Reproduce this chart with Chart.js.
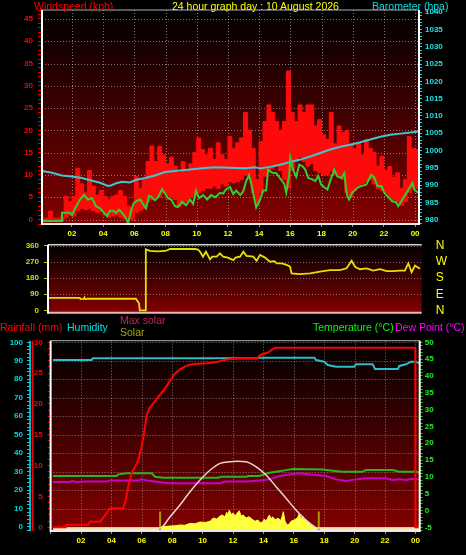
<!DOCTYPE html>
<html>
<head>
<meta charset="utf-8">
<script src="https://cdn.jsdelivr.net/npm/chart.js@4.4.0/dist/chart.umd.min.js"></script>
<style>
  body { margin: 0; background: #000; width: 466px; height: 555px; overflow: hidden; position: relative; font-family: "Liberation Sans", Arial, sans-serif; }
  canvas { position: absolute; left: 0; top: 0; }
  .t { position: absolute; font-size: 10.5px; line-height: 10.5px; white-space: nowrap; }
</style>
</head>
<body>
<canvas id="wind" width="466" height="555"></canvas>
<canvas id="dir" width="466" height="555"></canvas>
<canvas id="temp" width="466" height="555"></canvas>

<div class="t" style="left:34px;top:0.5px;color:#ff0000">Windspeed (kph)</div>
<div class="t" style="left:172px;top:0.5px;color:#ffff00">24 hour graph day : 10 August 2026</div>
<div class="t" style="left:372px;top:0.5px;color:#00e0e0">Barometer (hpa)</div>
<div class="t" style="left:0px;top:322px;color:#ff0000">Rainfall (mm)</div>
<div class="t" style="left:67px;top:322px;color:#00e0e0">Humidity</div>
<div class="t" style="left:120px;top:314.5px;color:#c8205a">Max solar</div>
<div class="t" style="left:120px;top:327px;color:#a8a800">Solar</div>
<div class="t" style="left:313px;top:322px;color:#00ff00">Temperature (°C)</div>
<div class="t" style="left:395px;top:322px;color:#ff00ff">Dew Point (°C)</div>

<script>
// ---- wind (top panel), hours of the day ----
const gustTimes = Array.from({ length: 98 }, (_, i) => i * 0.25);
const windHi = [0.3, 0.3, 1.9, 0.3, 0.3, 0.5, 5.2, 4.0, 5.2, 11.5, 8.0, 6.0, 11.0, 7.5, 5.5, 6.5,
  5.2, 4.5, 5.2, 5.5, 6.5, 5.2, 3.0, 2.5, 9.7, 7.0, 9.0, 13.0, 16.5, 13.0, 16.4, 14.5,
  12.5, 14.0, 12.0, 10.5, 13.0, 11.0, 12.5, 15.0, 18.3, 15.7, 14.5, 16.0, 13.5, 17.2, 14.5, 13.5,
  18.6, 16.0, 17.2, 18.3, 24.0, 20.0, 16.0, 9.0, 17.5, 22.0, 25.7, 24.0, 22.0, 20.0, 22.0, 33.3,
  24.0, 22.0, 25.7, 24.0, 25.7, 25.7, 21.0, 22.4, 19.0, 18.0, 24.0, 17.0, 21.0, 19.5, 20.0, 17.0,
  16.0, 17.2, 14.5, 17.9, 16.0, 15.0, 12.0, 14.2, 11.0, 11.9, 9.5, 10.5, 7.0, 9.0, 18.6, 16.0,
  15.7, 12.0];
const windLo = [0, 0, 0, 0, 0, 0, 0.5, 1.0, 0.8, 2.0, 2.5, 2.2, 2.5, 2.0, 1.6, 1.8,
  1.0, 0.5, 0.8, 1.0, 0.5, 0.2, 0, 0, 1.5, 2.0, 2.5, 4.0, 4.5, 5.0, 5.0, 6.0,
  5.5, 5.0, 4.5, 3.0, 3.5, 4.0, 5.0, 5.5, 6.0, 6.5, 7.0, 7.0, 7.5, 7.0, 8.0, 7.5,
  8.5, 8.2, 8.5, 9.0, 10.0, 10.0, 6.0, 3.5, 6.0, 9.7, 11.0, 11.5, 12.0, 11.0, 9.0, 7.0,
  11.0, 13.0, 14.0, 13.0, 12.0, 12.5, 11.0, 10.5, 10.0, 10.0, 11.0, 10.0, 9.5, 9.0, 6.0, 5.0,
  6.5, 7.5, 8.0, 8.5, 9.0, 8.0, 7.0, 6.5, 6.0, 5.0, 4.5, 4.0, 3.2, 4.0, 6.0, 7.0,
  7.0, 7.0];
const avgTimes = [0.08, 1.3, 1.36, 1.87, 2.0, 2.2, 2.52, 2.77, 3.03, 3.29, 3.54, 3.8, 4.06, 4.25, 4.44, 4.63,
  4.82, 5.02, 5.21, 5.4, 5.6, 5.79, 5.98, 6.17, 6.37, 6.56, 6.75, 6.94, 7.14, 7.33, 7.52, 7.78,
  7.97, 8.16, 8.36, 8.61, 8.8, 9.06, 9.32, 9.58, 9.77, 9.96, 10.15, 10.41, 10.67, 10.92, 11.18, 11.5,
  11.69, 11.89, 12.14, 12.34, 12.53, 12.79, 12.98, 13.17, 13.36, 13.56, 13.81, 14.07, 14.26, 14.45, 14.58, 14.84,
  15.1, 15.35, 15.61, 15.74, 15.93, 16.0, 16.19, 16.38, 16.57, 16.77, 16.96, 17.15, 17.41, 17.6, 17.79, 17.98,
  18.38, 18.63, 18.82, 19.01, 19.27, 19.46, 19.58, 19.66, 19.77, 19.96, 20.3, 20.55, 20.87, 21.19, 21.39, 21.58,
  21.84, 22.03, 22.23, 22.54, 22.8, 22.91, 23.18, 23.5, 23.83, 23.95, 24.21];
const windAvg = [-0.3, -0.3, 1.5, 1.5, 1.0, 2.5, 4.5, 5.5, 4.5, 4.8, 3.0, 2.5, 1.5, 0.8, 2.0, 2.0,
  1.5, 2.2, 1.5, 0.7, -0.8, 2.0, 3.8, 4.2, 4.5, 3.5, 2.5, 5.3, 5.0, 4.3, 5.0, 6.8,
  5.8, 4.8, 4.5, 3.0, 2.8, 4.0, 3.2, 4.5, 3.5, 6.5, 4.8, 5.5, 4.5, 5.5, 5.0, 6.0,
  5.8, 6.8, 7.3, 5.7, 6.5, 5.5, 6.3, 8.6, 10.0, 7.0, 2.7, 4.5, 6.5, 6.5, 11.2, 10.5,
  10.4, 9.2, 8.0, 6.0, 10.0, 13.8, 11.0, 9.6, 12.3, 12.0, 11.2, 9.3, 9.0, 8.6, 9.8, 7.8,
  6.7, 9.4, 11.2, 9.7, 9.3, 10.4, 6.7, 5.2, 4.5, 6.0, 7.1, 7.5, 7.8, 10.0, 9.4, 7.5,
  7.5, 6.0, 5.2, 4.1, 3.8, 3.0, 4.5, 6.3, 8.2, 6.7, 6.0];
const baroTimes = [0.08, 0.72, 1.36, 2.0, 2.64, 3.29, 3.8, 4.31, 4.5, 4.78, 5.21, 5.72, 6.07, 6.69, 7.33, 7.97,
  8.61, 9.25, 9.9, 10.54, 11.18, 11.82, 12.47, 13.1, 13.75, 14.07, 14.71, 15.35, 15.99, 16.64, 17.28, 17.92,
  18.56, 19.2, 19.85, 20.49, 21.13, 21.77, 22.41, 23.05, 23.7, 24.21];
const baro = [994.1, 993.6, 992.8, 992.5, 992.1, 991.3, 990.7, 989.8, 989.9, 990.5, 991.0, 990.8, 991.5, 992.1, 992.8, 993.8,
  994.1, 994.4, 994.7, 995.0, 995.2, 995.1, 995.0, 994.9, 995.2, 994.8, 995.3, 995.9, 996.7, 997.4, 998.3, 999.3,
  1000.3, 1001.1, 1001.7, 1002.4, 1003.2, 1004.0, 1004.6, 1004.9, 1005.2, 1005.5];

// ---- wind direction (middle panel) ----
const dirTimes = [0.46, 2.5, 2.55, 2.75, 2.8, 2.85, 3.0, 6.1, 6.3, 6.35, 6.72, 6.74, 7.0, 7.5, 8.0, 8.3,
  9.9, 10.1, 10.22, 10.41, 10.6, 10.86, 11.0, 11.29, 11.5, 11.7, 12.0, 12.36, 12.5, 12.79, 13.0, 13.2,
  13.64, 13.85, 14.07, 14.39, 14.71, 15.0, 15.14, 15.46, 15.78, 16.0, 16.1, 16.64, 17.28, 17.92, 18.56, 19.2,
  19.63, 19.95, 20.17, 20.49, 20.92, 21.34, 21.78, 22.2, 22.6, 23.05, 23.37, 23.59, 23.8, 24.02, 24.34];
const dirVals = [70, 70, 63, 64, 72, 63, 65, 65, 40, 0, 0, 341, 333, 330, 332, 343,
  343, 340, 328, 300, 328, 285, 300, 300, 319, 300, 295, 281, 295, 300, 328, 305,
  300, 277, 310, 295, 272, 275, 263, 263, 254, 244, 207, 203, 207, 216, 225, 225,
  235, 277, 244, 230, 235, 222, 230, 219, 219, 222, 222, 263, 213, 250, 233];
const compass = { 0: 'N', 90: 'E', 180: 'S', 270: 'W', 360: 'N' };

// ---- rain / humidity / solar / temperature (bottom panel) ----
const rainTimes = [0.16, 1.0, 1.06, 2.48, 2.6, 3.25, 3.36, 3.6, 3.9, 4.78, 4.95, 5.1, 5.33, 5.55, 5.77, 5.99,
  6.14, 6.25, 6.32, 6.5, 6.76, 6.98, 7.2, 7.53, 7.86, 8.18, 8.51, 8.95, 9.39, 10.27, 10.93, 11.58,
  12.46, 13.6, 13.73, 13.95, 14.28, 14.61, 14.78, 23.99, 24.0, 24.28];
const rain = [0, 0, 0.4, 0.4, 0.9, 0.9, 1.2, 2.0, 3.1, 3.1, 4.5, 6.5, 8.8, 9.8, 10.9, 13.1,
  15.2, 17.0, 18.2, 19.3, 20.1, 20.8, 21.5, 22.5, 23.8, 24.9, 25.6, 26.2, 26.5, 26.6, 26.8, 27.2,
  27.4, 27.4, 27.8, 28.1, 28.3, 28.9, 29.1, 29.1, 0, 0];
const humTimes = [0.16, 2.7, 2.77, 13.6, 13.75, 17.35, 17.46, 18.0, 18.23, 18.78, 19.98, 20.09, 21.19, 21.34, 22.84, 22.94,
  23.38, 23.71, 24.04, 24.26];
const hum = [90.4, 90.4, 91.3, 91.3, 91.7, 91.7, 90.4, 89.5, 87.7, 86.8, 86.8, 88.1, 88.1, 85.5, 85.5, 87.2,
  88.1, 89.5, 89.5, 88.5];
const tempTimes = [0.16, 4.35, 4.45, 5.0, 6.65, 6.87, 7.41, 11.03, 11.2, 12.86, 13.0, 13.73, 14.39, 14.83, 15.49, 15.93,
  17.9, 18.56, 19.2, 20.5, 20.75, 22.5, 22.94, 23.82, 24.0, 24.24];
const temp = [10.25, 10.25, 10.75, 11.05, 11.05, 10.05, 9.75, 9.75, 10.05, 10.05, 10.25, 10.25, 11.2, 11.5, 12.0, 12.3,
  12.2, 11.8, 11.5, 11.5, 12.0, 12.0, 11.5, 11.5, 11.7, 11.2];
const dewTimes = [0.16, 1.28, 1.39, 1.72, 2.37, 3.7, 3.9, 5.77, 5.99, 6.32, 6.87, 7.74, 11.2, 11.36, 11.54, 12.86,
  13.73, 14.39, 15.05, 15.49, 16.36, 16.8, 17.46, 18.12, 18.78, 19.43, 19.87, 20.75, 22.07, 22.5, 22.94, 23.38,
  23.82, 24.24];
const dew = [8.45, 8.45, 8.75, 8.45, 8.6, 8.6, 8.95, 8.95, 9.25, 8.95, 8.6, 8.1, 8.1, 8.45, 8.6, 8.6,
  8.9, 9.25, 10.25, 10.55, 11.05, 10.85, 10.55, 10.25, 9.25, 8.75, 9.1, 9.55, 9.55, 9.1, 9.25, 9.1,
  9.4, 9.25];
const maxSolarTimes = [0.16, 7.2, 7.86, 8.51, 9.17, 9.83, 10.5, 11.15, 11.81, 12.3, 12.86, 13.5, 14.17, 14.83, 15.49, 16.14,
  16.8, 17.35, 17.5, 24.24];
const maxSolar = [0, 0, 75, 153, 242, 320, 387, 431, 442, 445, 442, 409, 354, 276, 198, 120,
  53, 9, 0, 0];
const solarTimes = [0.16, 7.13, 7.26, 7.86, 8.18, 8.51, 8.84, 9.17, 9.5, 9.83, 10.16, 10.5, 10.7, 10.93, 11.15, 11.28,
  11.47, 11.59, 11.67, 11.76, 11.87, 12.0, 12.13, 12.24, 12.41, 12.53, 12.66, 12.86, 13.05, 13.3, 13.45, 13.64,
  13.78, 13.95, 14.06, 14.17, 14.39, 14.5, 14.61, 14.76, 14.96, 15.16, 15.31, 15.42, 15.55, 15.68, 15.82, 16.01,
  16.14, 16.26, 16.36, 16.47, 16.59, 16.67, 16.8, 17.02, 17.2, 17.35, 17.46, 24.24];
const solar = [0, 0, 8, 13, 15, 20, 18, 31, 28, 40, 36, 45, 67, 60, 80, 87,
  75, 105, 85, 120, 90, 100, 80, 95, 115, 80, 87, 67, 75, 55, 45, 53,
  35, 40, 60, 45, 87, 60, 75, 55, 65, 50, 109, 45, 20, 25, 45, 53,
  60, 70, 98, 60, 80, 55, 53, 33, 15, 5, 0, 0];
const sunTimes = [7.2, 17.64];

const pts = (xs, ys) => xs.map((x, i) => ({ x, y: ys[i] }));
const fixW = w => s => { s.width = w; };
const fixH = h => s => { s.height = h; };
const tickFont = { family: 'Liberation Sans', size: 8, weight: 'bold' };
const hourLabel = v => (v <= 0 ? '' : String(v % 24).padStart(2, '0'));
const every = n => v => (v >= 0 && v % n === 0 ? v : '');

// background, dotted grid and frame of each panel
const panel = {
  id: 'panel',
  beforeDraw(chart, _args, o) {
    const { ctx, chartArea: a } = chart;
    ctx.save();
    const g = ctx.createLinearGradient(0, a.top, 0, a.bottom);
    g.addColorStop(0, '#000000');
    g.addColorStop(0.1, '#0e0000');
    g.addColorStop(1, '#840000');
    ctx.fillStyle = g;
    ctx.fillRect(a.left, a.top, a.right - a.left, a.bottom - a.top);
    ctx.strokeStyle = 'rgba(205,205,205,0.55)';
    ctx.lineWidth = 1;
    ctx.setLineDash([1, 2]);
    const sy = chart.scales[o.hAxis];
    sy.ticks.forEach(t => {
      if (t.value % o.hStep !== 0 || t.value < o.hFrom) return;
      const y = Math.round(sy.getPixelForValue(t.value)) + 0.5;
      ctx.beginPath(); ctx.moveTo(a.left, y); ctx.lineTo(a.right, y); ctx.stroke();
    });
    if (o.vGrid) {
      const sx = chart.scales.x;
      sx.ticks.forEach(t => {
        if (t.value <= 0) return;
        const x = Math.round(sx.getPixelForValue(t.value)) + 0.5;
        ctx.beginPath(); ctx.moveTo(x, a.top); ctx.lineTo(x, a.bottom); ctx.stroke();
      });
    }
    ctx.restore();
  },
  afterDraw(chart, _args, o) {
    const { ctx, chartArea: a } = chart;
    ctx.save();
    (o.edges || []).forEach(([side, color, w]) => {
      ctx.strokeStyle = color; ctx.lineWidth = w;
      ctx.beginPath();
      if (side === 'top') { ctx.moveTo(a.left, a.top); ctx.lineTo(a.right, a.top); }
      if (side === 'bottom') { ctx.moveTo(a.left, a.bottom); ctx.lineTo(a.right, a.bottom); }
      if (side === 'left') { ctx.moveTo(a.left, a.top); ctx.lineTo(a.left, a.bottom + 1); }
      if (side === 'right') { ctx.moveTo(a.right, a.top); ctx.lineTo(a.right, a.bottom + 1); }
      ctx.stroke();
    });
    (o.axisLines || []).forEach(([id, side, color]) => {
      const s = chart.scales[id];
      const x = side === 'left' ? s.left + 1.5 : s.right - 1;
      ctx.strokeStyle = color; ctx.lineWidth = 1.6;
      ctx.beginPath(); ctx.moveTo(x, a.top); ctx.lineTo(x, a.bottom); ctx.stroke();
    });
    ctx.restore();
  }
};

Chart.defaults.font.family = 'Liberation Sans';
const base = {
  responsive: false,
  animation: false,
  events: [],
  elements: { point: { radius: 0 }, line: { tension: 0 } },
};

// top: windspeed + barometer
new Chart(document.getElementById('wind'), {
  type: 'line',
  data: {
    datasets: [
      { data: pts(avgTimes, windAvg), yAxisID: 'yWind', borderColor: '#2fcf2f', borderWidth: 2 },
      { data: pts(baroTimes, baro), yAxisID: 'yBaro', borderColor: '#3ec6cf', borderWidth: 2 },
      { data: pts(gustTimes, windHi), yAxisID: 'yWind', borderColor: '#ff0a0a', borderWidth: 1, stepped: true,
        fill: '+1', backgroundColor: '#ff0a0a' },
      { data: pts(gustTimes, windLo), yAxisID: 'yWind', borderColor: '#ff0a0a', borderWidth: 1, stepped: true },
    ]
  },
  options: {
    ...base,
    layout: { padding: { top: 10, bottom: 315, left: 0, right: 0 } },
    plugins: {
      legend: { display: false }, tooltip: { enabled: false },
      panel: { hAxis: 'yWind', hStep: 5, hFrom: 0, vGrid: true,
        edges: [['top', '#b0b0b0', 1], ['bottom', '#e8e8e8', 2], ['left', '#ffffff', 2], ['right', '#ffffff', 2]] }
    },
    scales: {
      x: {
        type: 'linear', min: 0.08, max: 24.25, afterFit: fixH(16),
        grid: { drawOnChartArea: false, tickLength: 3, tickColor: '#909090' }, border: { display: false },
        ticks: { stepSize: 2, includeBounds: false, autoSkip: false, maxRotation: 0, color: '#ffff00', font: tickFont, padding: 2, callback: hourLabel }
      },
      yWind: {
        position: 'left', min: -1, max: 47, afterFit: fixW(42),
        grid: { drawOnChartArea: false, tickLength: 4, tickColor: '#e00000' }, border: { display: false },
        ticks: { stepSize: 1, includeBounds: false, autoSkip: false, color: '#ff0000', font: tickFont, padding: 5, callback: every(5) }
      },
      yBaro: {
        position: 'right', min: 978.8, max: 1040.6, afterFit: fixW(47),
        grid: { drawOnChartArea: false, tickLength: 3, tickColor: '#20d0d0' }, border: { display: false },
        ticks: { stepSize: 1, includeBounds: false, autoSkip: false, color: '#20e0e0', font: tickFont, padding: 3, callback: every(5) }
      }
    }
  },
  plugins: [panel]
});

// middle: wind direction
new Chart(document.getElementById('dir'), {
  type: 'line',
  data: {
    datasets: [
      { data: pts(dirTimes, dirVals), yAxisID: 'yDir', borderColor: '#e2e200', borderWidth: 1.8 },
    ]
  },
  options: {
    ...base,
    layout: { padding: { top: 244.7, bottom: 242.3, left: 0, right: 0 } },
    plugins: {
      legend: { display: false }, tooltip: { enabled: false },
      panel: { hAxis: 'yDir', hStep: 90, hFrom: 90, vGrid: false,
        edges: [['top', '#d0d0d0', 1.5], ['bottom', '#e8b8b8', 2], ['left', '#ffffff', 2]] }
    },
    scales: {
      x: { type: 'linear', min: 0.46, max: 24.45, display: false },
      yDir: {
        position: 'left', min: -13, max: 367, afterFit: fixW(48),
        grid: { drawOnChartArea: false, tickLength: 4, tickColor: '#c8c800' }, border: { display: false },
        ticks: { stepSize: 90, includeBounds: false, autoSkip: false, color: '#d8d800', font: tickFont, padding: 5 }
      },
      yCompass: {
        position: 'right', min: -13, max: 367, afterFit: fixW(44.3),
        grid: { display: false, drawTicks: false }, border: { display: false },
        ticks: { stepSize: 90, includeBounds: false, autoSkip: false, color: '#ffff00', padding: 14,
          font: { family: "'Liberation Sans Narrow', 'Liberation Sans'", size: 12 }, callback: v => compass[v] || '' }
      }
    }
  },
  plugins: [panel]
});

// bottom: rain, humidity, solar, temperature, dew point
new Chart(document.getElementById('temp'), {
  type: 'line',
  data: {
    datasets: [
      { data: pts(rainTimes, rain), yAxisID: 'yRain', borderColor: '#ff0000', borderWidth: 2 },
      { data: pts(maxSolarTimes, maxSolar), yAxisID: 'ySolar', borderColor: '#ecd4d4', borderWidth: 1.5, cubicInterpolationMode: 'monotone' },
      { data: pts(tempTimes, temp), yAxisID: 'yTemp', borderColor: '#22b822', borderWidth: 2 },
      { data: pts(dewTimes, dew), yAxisID: 'yTemp', borderColor: '#c800c8', borderWidth: 2 },
      { data: pts(humTimes, hum), yAxisID: 'yHum', borderColor: '#2cbcc6', borderWidth: 2 },
      { data: sunTimes.flatMap(t => [{ x: t, y: -20 }, { x: t, y: 110 }, { x: t, y: null }]), yAxisID: 'ySolar',
        borderColor: '#b49400', borderWidth: 2, spanGaps: false },
      { data: pts(solarTimes, solar), yAxisID: 'ySolar', borderColor: '#ffff3c', borderWidth: 1,
        fill: 'start', backgroundColor: '#ffff3c' },
    ]
  },
  options: {
    ...base,
    layout: { padding: { top: 340.7, bottom: 8, left: 0, right: 0 } },
    plugins: {
      legend: { display: false }, tooltip: { enabled: false },
      panel: { hAxis: 'yHum', hStep: 10, hFrom: 0, vGrid: true,
        edges: [['top', '#b0b0b0', 1], ['bottom', '#e8e8e8', 2], ['left', '#ffffff', 2], ['right', '#ffffff', 2]],
        axisLines: [['yHum', 'right', '#00d8e0'], ['yRain', 'left', '#ff0000']] }
    },
    scales: {
      x: {
        type: 'linear', min: 0, max: 24.28, afterFit: fixH(16),
        grid: { drawOnChartArea: false, tickLength: 3, tickColor: '#909090' }, border: { display: false },
        ticks: { stepSize: 2, includeBounds: false, autoSkip: false, maxRotation: 0, color: '#ffff00', font: tickFont, padding: 2, callback: hourLabel }
      },
      yHum: {
        position: 'left', weight: 1, min: -2.17, max: 100.87, afterFit: fixW(31),
        grid: { drawOnChartArea: false, tickLength: 4, tickColor: '#00d0d8' }, border: { display: false },
        ticks: { stepSize: 2, includeBounds: false, autoSkip: false, color: '#00d8e0', font: tickFont, padding: 4, callback: every(10) }
      },
      yRain: {
        position: 'left', weight: 0, min: -0.6, max: 30.26, afterFit: fixW(19.6),
        grid: { drawOnChartArea: false, tickLength: 3, tickColor: '#e00000' }, border: { display: false },
        ticks: { stepSize: 1, includeBounds: false, autoSkip: false, color: '#ff0000', font: tickFont, padding: 5, callback: every(5) }
      },
      yTemp: {
        position: 'right', min: -6.1, max: 50.48, afterFit: fixW(46.3),
        grid: { drawOnChartArea: false, tickLength: 3, tickColor: '#00d000' }, border: { display: false },
        ticks: { stepSize: 1, includeBounds: false, autoSkip: false, color: '#22ee22', font: tickFont, padding: 2,
          callback: v => (v % 5 === 0 ? v : '') }
      },
      ySolar: { display: false, min: -20, max: 1250 }
    }
  },
  plugins: [panel]
});
</script>
</body>
</html>
